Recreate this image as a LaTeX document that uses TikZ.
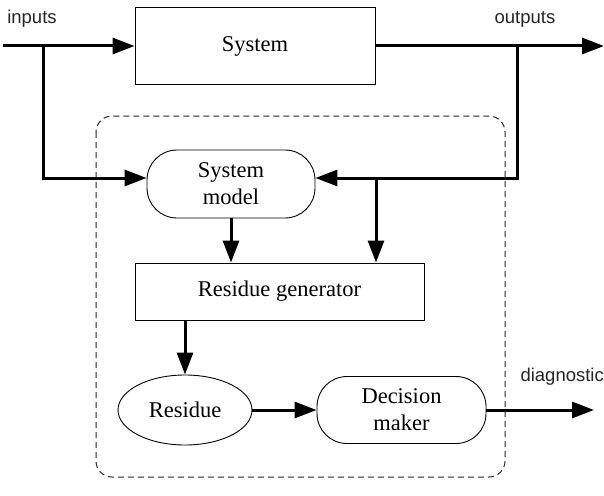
\documentclass[tikz,border=0pt]{standalone}
\usepackage{fontspec}
\setmainfont{Liberation Serif}
\setsansfont{Liberation Sans}
\usetikzlibrary{arrows.meta,shapes.geometric}

\begin{document}
\begin{tikzpicture}[x=1pt,y=-1pt,>={Triangle[length=22pt,width=16pt]},
  flow/.style={->,line width=3pt},
  block/.style={draw,line width=0.9pt,inner sep=0pt,align=center,
    font=\fontsize{22.5}{27}\selectfont},
  round block/.style={block,rounded corners=30pt},
  tag/.style={font=\sffamily\fontsize{18.5}{22}\selectfont,text=black!85}]
  \useasboundingbox (0,0) rectangle (604,495);

  % monitoring part
  \draw[dashed,dash pattern=on 6pt off 4pt,line width=1pt,black!85,rounded corners=16pt]
    (96,116) rectangle (505,477);

  \node[block,minimum width=240pt,minimum height=77pt] (sys) at (255,46) {System};
  \node[round block,minimum width=168pt,minimum height=68pt] (model) at (231,184) {System\\model};
  \node[block,minimum width=289pt,minimum height=57pt] (gen) at (279.5,291.5) {Residue generator};
  \node[block,ellipse,minimum width=134pt,minimum height=70pt] (res) at (185,410) {Residue};
  \node[round block,minimum width=169pt,minimum height=67pt] (dec) at (401.5,410) {Decision\\maker};

  \node[tag] (intag) at (32,19) {inputs};
  \node[tag] (outtag) at (525,19) {outputs};
  \node[tag,anchor=west] (diagtag) at (517,377) {diagnostic};

  \coordinate (in) at (3,46);
  \coordinate (out) at (604,46);
  \coordinate (ibr) at (43,46);
  \coordinate (obr) at (517,46);
  \coordinate (tap) at (376,178);
  \coordinate (diag) at (594,410);

  \draw[flow] (in) -- (sys);
  \draw[flow] (sys) -- (out);
  \draw[flow] (ibr) |- ([yshift=6pt]model.west);
  \draw[flow] (obr) |- ([yshift=6pt]model.east);
  \draw[flow] (model.south) -- (model.south |- gen.north);
  \draw[flow] (tap) -- (tap |- gen.north);
  \draw[flow] (res.north |- gen.south) -- (res.north);
  \draw[flow] (res) -- (dec);
  \draw[flow] (dec) -- (diag);
\end{tikzpicture}
\end{document}
